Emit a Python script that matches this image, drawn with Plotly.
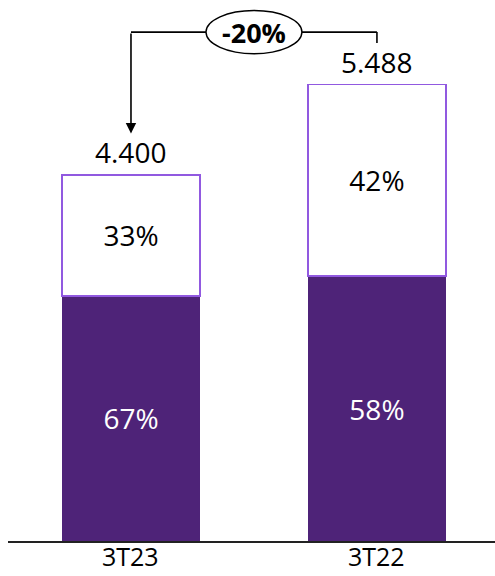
import plotly.graph_objects as go

categories = ["3T23", "3T22"]
totals = [4.400, 5.488]
dark_share = [0.67, 0.58]
light_share = [0.33, 0.42]
total_labels = ["4.400", "5.488"]
change_label = "-20%"

DARK = "#4e2378"
EDGE = "#9159e0"
FONT = "Open Sans, Noto Sans, DejaVu Sans, sans-serif"

xs = [0, 1]
dark_vals = [t * s for t, s in zip(totals, dark_share)]
light_vals = [t * s for t, s in zip(totals, light_share)]

fig = go.Figure()
fig.add_trace(go.Bar(
    x=xs, y=dark_vals, width=0.561,
    marker=dict(color=DARK, line=dict(width=0)),
    text=[f"{round(s*100)}%" for s in dark_share],
    textposition="inside", insidetextanchor="middle",
    textfont=dict(color="white", size=28, family=FONT),
    hoverinfo="skip", showlegend=False,
))
fig.add_trace(go.Bar(
    x=xs, y=light_vals, width=0.561,
    marker=dict(color="white", line=dict(width=1.6, color=EDGE)),
    text=[f"{round(s*100)}%" for s in light_share],
    textposition="inside", insidetextanchor="middle",
    textfont=dict(color="black", size=28, family=FONT),
    hoverinfo="skip", showlegend=False,
))

for x, t, lab in zip(xs, totals, total_labels):
    fig.add_annotation(x=x, y=t, text=lab, showarrow=False, yanchor="bottom",
                       yshift=2, font=dict(size=28, color="black", family=FONT))

# category labels below the axis
for x, cat in zip(xs, categories):
    fig.add_annotation(x=x, y=0, xref="x", yref="paper", text=cat, showarrow=False,
                       yanchor="top", yshift=3, borderpad=0,
                       font=dict(size=25, color="black", family=FONT))

# connector
top = max(totals) + 0.63
gap = 0.5
line_style = dict(color="black", width=1.6)
fig.add_shape(type="line", xref="x", yref="y", x0=xs[0], x1=xs[1], y0=top, y1=top, line=line_style)
fig.add_shape(type="line", xref="x", yref="y", x0=xs[1], x1=xs[1], y0=top, y1=totals[1] + gap, line=line_style)
fig.add_annotation(x=xs[0], y=totals[0] + gap, ax=xs[0], ay=top, xref="x", yref="y",
                   axref="x", ayref="y", text="", showarrow=True, arrowhead=2,
                   arrowsize=1.3, arrowwidth=1.6, arrowcolor="black")
mid = (xs[0] + xs[1]) / 2
fig.add_shape(type="circle", xref="x", yref="y", x0=mid - 0.195, x1=mid + 0.195,
              y0=top - 0.26, y1=top + 0.26, fillcolor="white", line=dict(color="black", width=1.4))
fig.add_annotation(x=mid, y=top, text=f"<b>{change_label}</b>", showarrow=False,
                   font=dict(size=27, color="black", family=FONT))

fig.update_layout(
    barmode="stack",
    width=495, height=576,
    margin=dict(l=8, r=0, t=0, b=35),
    paper_bgcolor="white", plot_bgcolor="white",
    xaxis=dict(range=[-0.5, 1.48], tickvals=xs, showticklabels=False,
               showline=True, linecolor="#222", linewidth=1.5, showgrid=False,
               zeroline=False, ticks="", automargin=False, fixedrange=True),
    yaxis=dict(range=[0, 6.504], visible=False, showgrid=False, fixedrange=True,
               automargin=False),
)

fig.write_html("out.html")
